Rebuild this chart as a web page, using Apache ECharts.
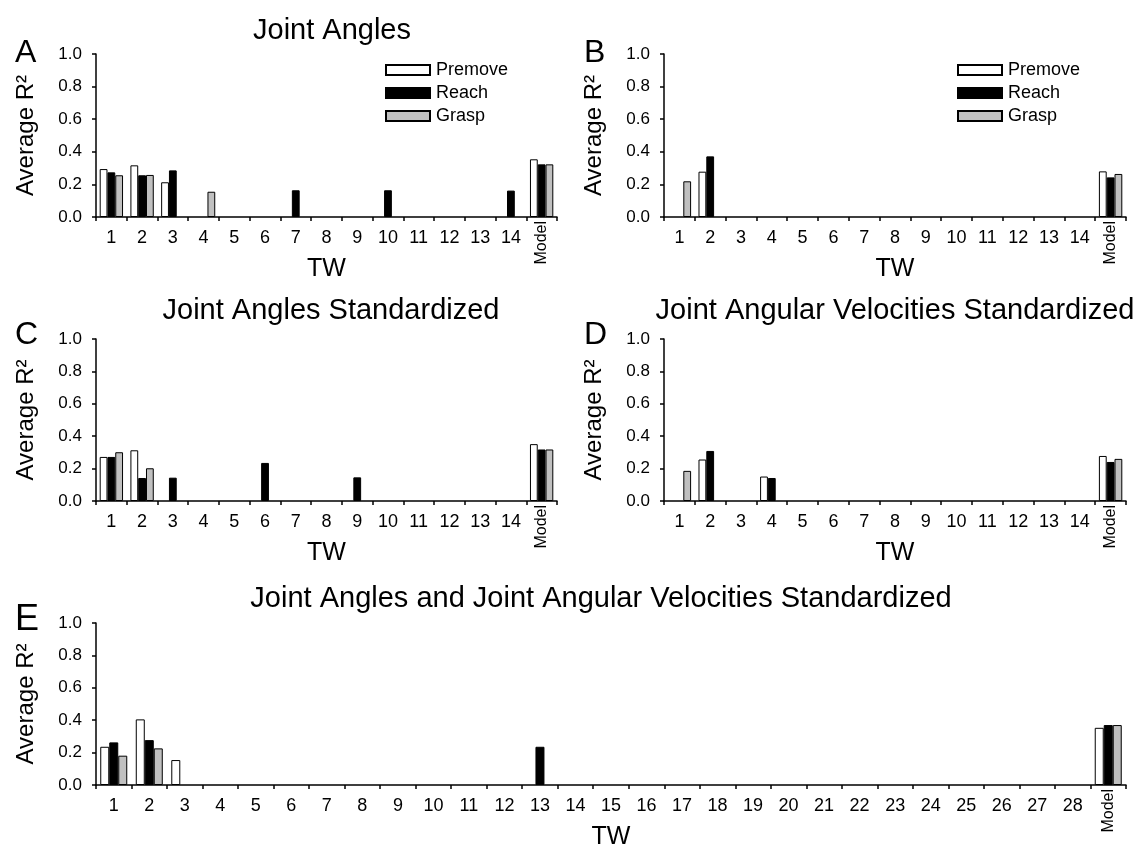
<!DOCTYPE html>
<html>
<head>
<meta charset="utf-8">
<title>Average R² by time window</title>
<script src="https://cdn.jsdelivr.net/npm/echarts@6/dist/echarts.min.js"></script>
<style>
  html, body { margin: 0; padding: 0; background: #fff; }
  #chart { width: 1140px; height: 851px; }
</style>
</head>
<body>
<div id="chart"></div>
<script>
// Time-window categories
const tw14 = ['1','2','3','4','5','6','7','8','9','10','11','12','13','14','Model'];
const tw28 = ['1','2','3','4','5','6','7','8','9','10','11','12','13','14','15','16','17','18','19','20','21','22','23','24','25','26','27','28','Model'];
const yTicks = [0, 0.2, 0.4, 0.6, 0.8, 1.0];

// A: Joint Angles
const aPremove = [0.294, 0.317, 0.213, null, null, null, null, null, null, null, null, null, null, null, 0.354];
const aReach   = [0.274, 0.256, 0.286, null, null, null, 0.164, null, null, 0.164, null, null, null, 0.162, 0.323];
const aGrasp   = [0.256, 0.258, null, 0.155, null, null, null, null, null, null, null, null, null, null, 0.323];

// B
const bPremove = [null, 0.278, null, null, null, null, null, null, null, null, null, null, null, null, 0.280];
const bReach   = [null, 0.372, null, null, null, null, null, null, null, null, null, null, null, null, 0.243];
const bGrasp   = [0.219, null, null, null, null, null, null, null, null, null, null, null, null, null, 0.264];

// C: Joint Angles Standardized
const cPremove = [0.272, 0.313, null, null, null, null, null, null, null, null, null, null, null, null, 0.351];
const cReach   = [0.272, 0.142, 0.144, null, null, 0.235, null, null, 0.146, null, null, null, null, null, 0.318];
const cGrasp   = [0.301, 0.202, null, null, null, null, null, null, null, null, null, null, null, null, 0.318];

// D: Joint Angular Velocities Standardized
const dPremove = [null, 0.256, null, 0.151, null, null, null, null, null, null, null, null, null, null, 0.278];
const dReach   = [null, 0.309, null, 0.142, null, null, null, null, null, null, null, null, null, null, 0.241];
const dGrasp   = [0.186, null, null, null, null, null, null, null, null, null, null, null, null, null, 0.260];

// E: Joint Angles and Joint Angular Velocities Standardized
const ePremove = [0.236, 0.405, 0.154, null, null, null, null, null, null, null, null, null, null, null, null, null, null, null, null, null, null, null, null, null, null, null, null, null, 0.353];
const eReach   = [0.263, 0.277, null, null, null, null, null, null, null, null, null, null, 0.236, null, null, null, null, null, null, null, null, null, null, null, null, null, null, null, 0.370];
const eGrasp   = [0.181, 0.226, null, null, null, null, null, null, null, null, null, null, null, null, null, null, null, null, null, null, null, null, null, null, null, null, null, null, 0.370];

const FONT = 'Liberation Sans, Arial, sans-serif';
const stageColors = { Premove: '#ffffff', Reach: '#000000', Grasp: '#c0c0c0' };

const panels = [
  { grid: { left: 96, top: 54, width: 461, height: 163 }, cats: tw14, data: [aPremove, aReach, aGrasp] },
  { grid: { left: 664, top: 54, width: 462, height: 163 }, cats: tw14, data: [bPremove, bReach, bGrasp] },
  { grid: { left: 96, top: 339, width: 461, height: 162 }, cats: tw14, data: [cPremove, cReach, cGrasp] },
  { grid: { left: 664, top: 339, width: 462, height: 162 }, cats: tw14, data: [dPremove, dReach, dGrasp] },
  { grid: { left: 96, top: 623, width: 1030, height: 162 }, cats: tw28, data: [ePremove, eReach, eGrasp] }
];

const grids = [], xAxes = [], yAxes = [], series = [];
panels.forEach((p, i) => {
  grids.push(Object.assign({ containLabel: false }, p.grid));
  // numbered time windows along the bottom ("Model" is set vertically on its own axis)
  xAxes.push({
    type: 'category', gridIndex: i, data: p.cats, boundaryGap: true,
    name: 'TW', nameLocation: 'middle', nameGap: 40,
    nameTextStyle: { fontFamily: FONT, fontSize: 25, color: '#000' },
    axisLine: { lineStyle: { color: '#000', width: 1.5 } },
    axisTick: { show: true, length: 4, lineStyle: { color: '#000', width: 1.5 } },
    axisLabel: { interval: 0, margin: 12, fontFamily: FONT, fontSize: 18, color: '#000',
      formatter: v => (v === 'Model' ? '' : v) },
    splitLine: { show: false }
  });
  yAxes.push({
    type: 'value', gridIndex: i, min: yTicks[0], max: yTicks[yTicks.length - 1], interval: 0.2,
    name: 'Average R²', nameLocation: 'middle', nameGap: 58, nameRotate: 90,
    nameTextStyle: { fontFamily: FONT, fontSize: 24, color: '#000' },
    axisLine: { show: true, lineStyle: { color: '#000', width: 1.5 } },
    axisTick: { show: true, length: 4, lineStyle: { color: '#000', width: 1.5 } },
    axisLabel: { margin: 14, fontFamily: FONT, fontSize: 17, color: '#000', formatter: v => v.toFixed(1) },
    splitLine: { show: false }
  });
  ['Premove', 'Reach', 'Grasp'].forEach((name, k) => {
    series.push({
      name, type: 'bar', xAxisIndex: i, yAxisIndex: i, data: p.data[k],
      barGap: '0%', barCategoryGap: '24%',
      itemStyle: { color: stageColors[name], borderColor: '#000', borderWidth: 1 },
      emphasis: { disabled: true }
    });
  });
});
// overlay axes carrying only the vertical "Model" label
panels.forEach((p, i) => {
  xAxes.push({
    type: 'category', gridIndex: i, data: p.cats, boundaryGap: true, position: 'bottom',
    axisLine: { show: false }, axisTick: { show: false }, splitLine: { show: false },
    axisLabel: { interval: 0, rotate: 90, margin: 4, fontFamily: FONT, fontSize: 16, color: '#000',
      formatter: v => (v === 'Model' ? v : '') }
  });
});

const titleStyle = { fontFamily: FONT, fontSize: 29, fontWeight: 'normal', color: '#000' };
const letterStyle = { fontFamily: FONT, fontSize: 32, fontWeight: 'normal', color: '#000' };
const titles = [
  { text: 'Joint Angles', left: 327, top: 11, textAlign: 'center', textStyle: titleStyle },
  { text: 'Joint Angles Standardized', left: 326, top: 291, textAlign: 'center', textStyle: titleStyle },
  { text: 'Joint Angular Velocities Standardized', left: 890, top: 291, textAlign: 'center', textStyle: titleStyle },
  { text: 'Joint Angles and Joint Angular Velocities Standardized', left: 596, top: 579, textAlign: 'center', textStyle: titleStyle },
  { text: 'A', left: 10, top: 32, textStyle: letterStyle },
  { text: 'B', left: 579, top: 32, textStyle: letterStyle },
  { text: 'C', left: 10, top: 314, textStyle: letterStyle },
  { text: 'D', left: 579, top: 314, textStyle: letterStyle },
  { text: 'E', left: 10, top: 597, textStyle: Object.assign({}, letterStyle, { fontSize: 36 }) }
];

const legendBase = {
  orient: 'vertical', itemWidth: 44, itemHeight: 10, itemGap: 5,
  icon: 'rect', selectedMode: false,
  textStyle: { fontFamily: FONT, fontSize: 18, color: '#000', padding: [0, 0, 0, 1] },
  data: ['Premove', 'Reach', 'Grasp']
};

const chart = echarts.init(document.getElementById('chart'), null, { renderer: 'canvas' });
chart.setOption({
  backgroundColor: '#fff',
  animation: false,
  title: titles,
  legend: [
    Object.assign({ left: 380, top: 56 }, legendBase),
    Object.assign({ left: 952, top: 56 }, legendBase)
  ],
  grid: grids,
  xAxis: xAxes,
  yAxis: yAxes,
  series
});
</script>
</body>
</html>
